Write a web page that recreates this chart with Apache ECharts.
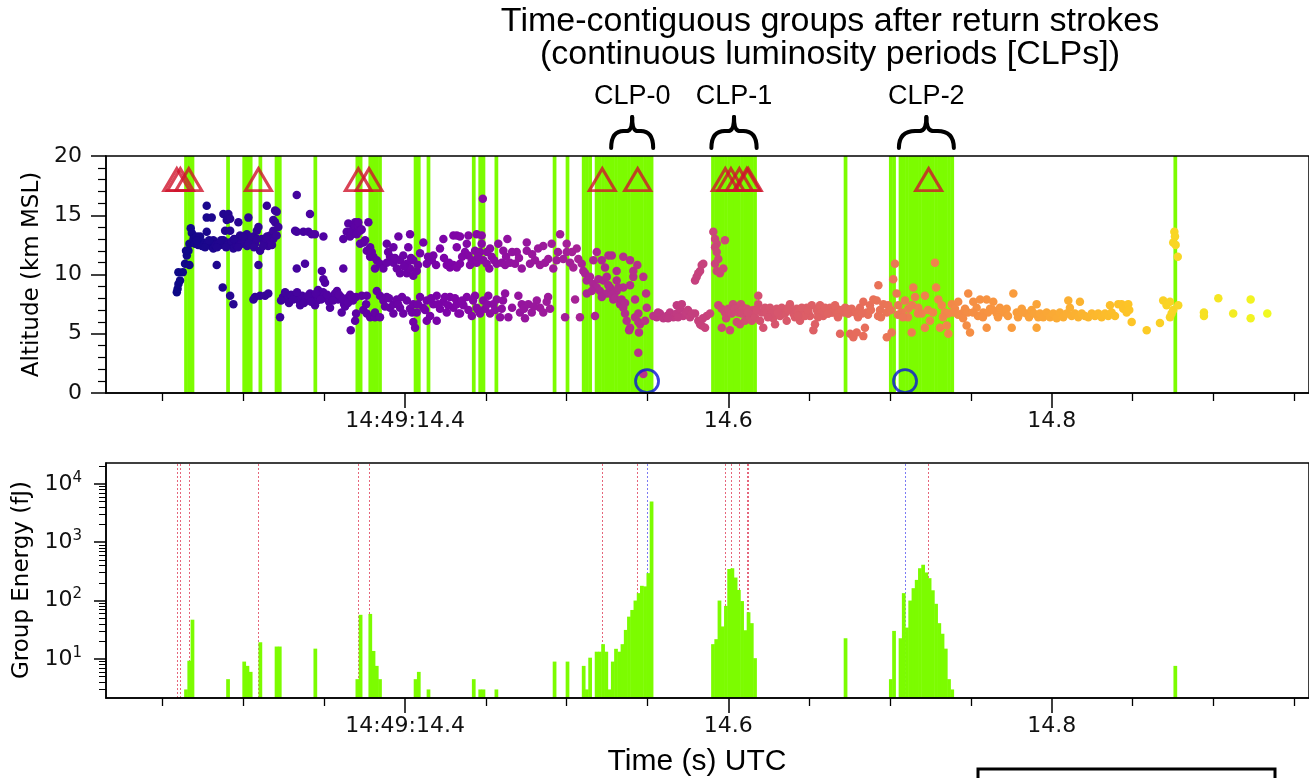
<!DOCTYPE html>
<html><head><meta charset="utf-8">
<script src="https://cdn.jsdelivr.net/npm/echarts@6/dist/echarts.min.js"></script>
<style>html,body{margin:0;padding:0;background:#fff}#c{width:1309px;height:778px}</style>
</head><body><div id="c"></div>
<script>
// ---------------- data ----------------
const timeMajorTicks = [14.4, 14.6, 14.8];
const timeMajorLabels = ['14:49:14.4', '14.6', '14.8'];
const timeMinorTicks = [14.25, 14.3, 14.35, 14.45, 14.5, 14.55, 14.65, 14.7, 14.75, 14.85, 14.9, 14.95];
const altTicks = [0, 5, 10, 15, 20];
const energyExponents = [1, 2, 3, 4];
const energyMinorTicks = [3,4,5,6,7,8,9,20,30,40,50,60,70,80,90,200,300,400,500,600,700,800,900,2000,3000,4000,5000,6000,7000,8000,9000,20000];

// GLM frames (start time, s after 14:49) and group energy (fJ)
const frameStart = [14.2635,14.2655,14.2675,14.2895,14.2995,14.3015,14.3035,14.3095,14.3195,14.3215,14.3435,14.3695,14.3715,14.3775,14.3795,14.3815,14.3835,14.4055,14.4075,14.4135,14.4415,14.4455,14.4475,14.4555,14.4915,14.4995,14.5095,14.5115,14.5135,14.5175,14.5195,14.5215,14.5235,14.5255,14.5275,14.5295,14.5315,14.5335,14.5355,14.5375,14.5395,14.5415,14.5435,14.5455,14.5475,14.5495,14.5515,14.5895,14.5915,14.5935,14.5955,14.5975,14.5995,14.6015,14.6035,14.6055,14.6075,14.6095,14.6115,14.6135,14.6155,14.6715,14.6995,14.7015,14.7055,14.7075,14.7095,14.7115,14.7135,14.7155,14.7175,14.7195,14.7215,14.7235,14.7255,14.7275,14.7295,14.7315,14.7335,14.7355,14.7375,14.8755];
const frameEnergy = [3.0,9.3,47,4.5,9.0,7.6,6.0,19.3,16.3,16.3,15.0,4.5,57,59,13.7,7.6,4.5,4.5,6.0,3.0,4.5,3.0,3.0,3.0,9.0,9.0,7.6,3.0,10.5,13.3,13.3,17.9,13.3,3.0,9.0,14.9,13.3,17.9,31.4,53,69,100,134,179,175,295,4990,17.9,21.8,100,36,81,347,358,248,152,98,31,63,41,10.3,22.6,4.5,30.2,22.6,134,34.4,100,163,226,358,410,303,242,150,88,41,27,15,4.5,3.0,7.6];

const returnStrokeTimes = [14.2588,14.2610,14.2662,14.3093,14.3711,14.3777,14.5220,14.5439,14.5981,14.6016,14.6068,14.6114,14.6123,14.7239];
const returnStrokeAlt = 18;
const cgTimes = [14.5497,14.7093];
const cgAlt = 1;

const clpNames = ['CLP-0','CLP-1','CLP-2'];
const clpStart = [14.5275,14.5895,14.7055];
const clpEnd = [14.5535,14.6175,14.7395];

// VHF sources [time (s), altitude (km MSL)]
const vhfSources = [
[14.2588,8.5],[14.2593,8.8],[14.2598,9.2],[14.2608,9.5],[14.2598,10.2],[14.2625,10.2],[14.2639,10.9],[14.2650,11.6],[14.2660,12.0],[14.2645,12.0],[14.2666,12.6],[14.2666,10.8],[14.2674,13.9],[14.2681,13.5],[14.2691,13.0],[14.2712,13.2],
[14.2701,12.6],[14.2720,12.5],[14.2732,13.2],[14.2744,12.4],[14.2752,12.7],[14.2773,15.8],[14.2773,14.8],[14.2773,13.6],[14.2775,12.5],[14.2794,12.6],[14.2804,14.8],[14.2800,12.4],[14.2814,12.9],[14.2814,12.2],[14.2825,12.5],[14.2835,10.8],[14.2845,12.6],[14.2856,12.5],[14.2872,8.9],[14.2876,15.1],[14.2876,12.9],[14.2880,12.6],[14.2887,13.7],[14.2897,14.6],[14.2897,12.7],[14.2905,12.5],[14.2907,15.1],[14.2918,14.7],[14.2918,13.7],[14.2918,8.2],[14.2928,12.6],[14.2930,12.8],[14.2938,12.2],[14.2938,7.5],[14.2959,13.0],[14.2955,12.5],[14.2969,14.4],[14.2979,13.3],[14.2979,12.7],[14.2990,12.6],[14.3004,12.9],[14.3010,13.0],[14.3021,13.4],[14.3023,12.4],[14.3031,14.8],[14.3031,12.7],[14.3052,12.5],[14.3054,12.9],[14.3062,13.2],[14.3072,12.6],[14.3083,13.7],[14.3093,14.0],[14.3093,10.8],[14.3103,12.0],[14.3115,13.0],[14.3134,12.7],[14.3145,15.8],[14.3145,12.9],[14.3153,12.4],[14.3165,13.3],[14.3171,12.9],[14.3185,13.7],[14.3185,14.6],[14.3185,13.0],[14.3196,15.4],[14.3196,14.4],[14.3206,15.3],[14.3206,13.3],[14.3216,14.0],
[14.2713,12.9],[14.2763,12.3],[14.2788,12.9],[14.2837,12.3],[14.2862,12.9],[14.2893,12.3],[14.2942,13.0],[14.2967,12.3],[14.2998,13.2],[14.3035,12.6],[14.3066,12.3],[14.3085,13.0],[14.3122,12.4],[14.3146,13.2],[14.3177,12.5],
[14.3062,7.9],[14.3072,8.1],[14.3103,8.2],[14.3134,8.2],[14.3154,8.4],[14.3227,6.4],[14.3245,8.1],[14.3270,7.9],[14.3295,8.3],[14.3320,8.1],[14.3344,7.8],[14.3363,8.2],[14.3388,8.0],[14.3412,8.4],[14.3431,8.1],[14.3456,7.8],[14.3474,8.2],[14.3493,8.5],[14.3511,8.0],[14.3530,7.7],[14.3548,8.1],[14.3567,8.4],[14.3586,7.9],[14.3604,8.1],[14.3623,7.5],[14.3641,8.0],[14.3660,8.3],[14.3678,7.8],[14.3697,8.1],[14.3351,7.4],[14.3443,7.4],[14.3536,7.2],[14.3629,7.3],[14.3579,8.6],[14.3462,8.7],[14.3608,6.8],[14.3664,5.3],[14.3691,6.1],[14.3697,6.7],[14.3742,7.0],[14.3732,8.2],[14.3759,7.5],[14.3763,6.7],[14.3763,8.2],[14.3784,6.4],[14.3814,6.4],[14.3814,6.8],[14.3845,6.4],
[14.3233,7.8],[14.3258,8.5],[14.3282,7.6],[14.3307,7.9],[14.3332,8.5],[14.3375,7.6],[14.3400,8.2],[14.3419,7.7],[14.3449,8.4],[14.3480,7.9],[14.3518,8.3],[14.3555,7.8],[14.3592,8.3],[14.3617,7.9],[14.3647,7.6],[14.3672,8.1],
[14.3330,16.7],[14.3412,15.1],[14.3320,13.7],[14.3330,13.6],[14.3371,13.6],[14.3402,13.6],[14.3423,13.4],[14.3443,13.4],[14.3495,13.2],[14.3381,10.9],[14.3330,10.5],[14.3485,10.3],[14.3495,9.6],[14.3505,9.3],[14.3618,10.5],
[14.3618,13.0],[14.3639,13.6],[14.3649,14.3],[14.3660,13.2],[14.3670,13.7],[14.3691,14.4],[14.3691,14.1],[14.3701,13.4],[14.3711,14.1],[14.3711,14.4],[14.3722,13.7],[14.3722,12.6],[14.3732,13.8],[14.3742,12.7],[14.3753,12.9],[14.3763,12.0],[14.3773,14.4],[14.3784,12.3],[14.3784,11.5],[14.3794,11.9],[14.3804,11.5],[14.3825,11.2],[14.3814,10.5],[14.3845,10.9],[14.3866,10.5],
[14.3825,8.6],[14.3845,8.2],[14.3866,7.8],[14.3887,8.1],[14.3907,7.2],[14.3928,7.5],[14.3928,6.7],[14.3949,7.9],[14.3969,7.2],[14.3989,6.7],[14.4011,7.8],[14.4031,7.1],[14.4051,7.5],[14.4051,6.0],[14.4062,5.5],[14.4072,6.8],[14.4093,8.1],[14.4113,7.2],[14.4134,7.8],[14.4134,6.1],[14.4155,6.5],[14.4175,7.5],[14.4196,8.2],[14.4196,6.1],[14.4216,7.1],[14.4237,7.7],[14.4258,6.8],[14.4278,8.1],[14.4299,7.2],[14.4320,7.5],[14.4330,6.7],
[14.3876,7.3],[14.3901,8.0],[14.3957,7.5],[14.3981,8.1],[14.4043,6.8],[14.4080,7.5],[14.4124,7.0],[14.4161,8.0],[14.4204,7.5],[14.4247,8.1],[14.4266,7.4],[14.4309,8.0],
[14.3887,12.6],[14.3887,11.0],[14.3907,11.5],[14.3928,12.3],[14.3928,11.0],[14.3949,10.5],[14.3959,13.2],[14.3969,11.2],[14.3969,10.1],[14.3989,11.6],[14.4011,10.9],[14.4011,10.1],[14.4020,12.3],[14.4031,13.4],[14.4031,10.5],[14.4051,11.2],[14.4051,9.9],[14.4072,10.3],[14.4093,11.8],[14.4113,12.7],[14.4134,10.9],[14.4165,11.2],[14.4175,11.6],[14.4216,12.2],[14.4237,13.0],[14.4258,10.8],[14.4278,10.6],[14.4299,10.8],[14.4299,13.3],[14.4320,13.3],[14.4320,10.6],[14.4320,12.3],
[14.3895,11.9],[14.3938,11.4],[14.3994,10.7],[14.4037,11.4],[14.4080,10.8],[14.4142,11.5],[14.4192,10.8],[14.4241,11.4],[14.4272,11.0],
[14.4340,13.2],[14.4340,10.9],[14.4371,11.9],[14.4382,12.6],[14.4392,13.3],[14.4392,11.6],[14.4413,11.2],[14.4433,12.0],[14.4443,13.4],[14.4443,11.0],[14.4464,11.9],[14.4474,13.3],[14.4474,12.6],[14.4481,16.4],[14.4484,11.2],[14.4505,10.9],[14.4521,10.5],[14.4526,12.2],[14.4536,11.5],[14.4567,10.9],[14.4577,12.6],[14.4598,11.0],[14.4608,12.0],[14.4619,10.8],[14.4633,13.0],[14.4649,11.0],[14.4680,10.9],[14.4691,11.9],[14.4722,10.5],[14.4753,12.7],[14.4753,12.0],[14.4773,10.9],[14.4804,11.2],[14.4835,10.8],[14.4855,12.4],[14.4886,11.3],[14.4907,12.6],[14.4917,10.5],[14.4938,11.2],[14.4959,13.4],[14.4979,11.3],[14.5000,11.9],[14.5000,12.6],[14.5021,11.0],[14.5041,10.6],[14.5062,12.2],[14.5072,11.3],[14.5093,10.9],[14.5103,10.3],
[14.4353,11.5],[14.4402,10.8],[14.4452,11.5],[14.4507,11.9],[14.4551,11.2],[14.4625,11.5],[14.4662,11.9],[14.4705,11.4],[14.4786,11.7],[14.4823,12.2],[14.4866,11.0],[14.4946,11.9],[14.5033,11.9],
[14.4340,6.7],[14.4361,7.4],[14.4382,8.1],[14.4392,7.0],[14.4413,6.5],[14.4433,8.2],[14.4443,7.2],[14.4464,6.7],[14.4484,7.8],[14.4495,7.1],[14.4515,8.2],[14.4526,6.7],[14.4546,7.5],[14.4567,7.9],[14.4588,6.4],[14.4598,7.1],[14.4619,8.4],[14.4639,6.4],[14.4701,8.2],[14.4711,6.8],[14.4722,7.5],[14.4742,6.3],[14.4763,7.5],[14.4784,6.8],[14.4815,7.8],[14.4835,7.2],[14.4855,6.8],[14.4876,7.7],[14.4897,7.1],[14.4990,6.4],[14.5052,7.9],[14.5082,6.4],[14.5175,6.5],
[14.4353,7.8],[14.4421,7.8],[14.4452,7.0],[14.4507,7.5],[14.4557,7.0],[14.4606,7.8],[14.4662,7.2],[14.4736,7.1],[14.4798,7.3],[14.4885,8.1],
[14.5113,10.1],[14.5124,9.5],[14.5124,8.4],[14.5144,9.8],[14.5165,9.2],[14.5165,11.2],[14.5186,8.9],[14.5186,11.9],[14.5206,8.6],[14.5217,11.2],[14.5227,9.5],[14.5237,10.6],[14.5248,8.4],[14.5248,9.8],[14.5258,11.6],[14.5268,8.9],[14.5279,11.6],[14.5288,7.9],[14.5309,8.6],[14.5309,10.3],[14.5309,9.5],[14.5330,7.5],[14.5350,7.2],[14.5350,11.5],[14.5350,8.9],[14.5361,6.7],[14.5371,6.1],[14.5392,5.5],[14.5392,11.2],[14.5392,9.1],[14.5412,9.8],[14.5412,10.3],[14.5423,6.4],[14.5423,7.9],[14.5437,10.8],[14.5443,6.7],[14.5443,6.0],[14.5443,3.4],[14.5447,5.1],[14.5454,5.8],[14.5474,9.8],[14.5474,1.6],[14.5485,6.1],[14.5491,8.4],[14.5495,7.2],[14.5386,5.3],
[14.5155,8.6],[14.5196,9.6],[14.5217,8.1],[14.5258,9.1],[14.5279,8.3],[14.5299,8.0],[14.5320,8.9],[14.5340,7.9],[14.5361,7.6],
[14.5536,6.5],[14.5557,6.4],[14.5577,6.7],[14.5598,6.3],[14.5619,6.5],[14.5639,6.8],[14.5660,6.4],[14.5681,6.7],[14.5681,7.4],[14.5701,7.1],[14.5712,7.5],[14.5721,6.5],[14.5742,6.8],[14.5763,6.4],[14.5794,6.7],[14.5814,6.1],[14.5825,5.8],[14.5835,5.7],[14.5856,5.5],[14.5866,6.5],[14.5887,6.7],
[14.5565,6.8],[14.5627,6.3],[14.5689,6.4],[14.5750,7.0],[14.5775,6.7],[14.5843,6.3],[14.6029,7.5],[14.5986,6.3],[14.6078,7.5],
[14.5794,9.5],[14.5804,9.8],[14.5814,10.1],[14.5825,10.3],[14.5835,10.8],[14.5845,10.9],
[14.5907,13.6],[14.5918,13.0],[14.5928,12.6],[14.5918,12.3],[14.5928,11.9],[14.5938,11.3],[14.5918,10.9],[14.5928,10.3],[14.5948,10.1],[14.5969,10.5],[14.5979,12.9],
[14.5938,7.4],[14.5959,7.1],[14.5959,5.5],[14.5979,6.8],[14.6000,7.1],[14.6010,5.3],[14.6021,6.7],[14.6041,7.1],[14.6052,6.0],[14.6062,6.8],[14.6072,5.8],[14.6093,7.2],[14.6114,6.7],
[14.6103,6.1],[14.6114,7.1],[14.6134,6.4],[14.6145,6.1],[14.6154,7.0],[14.6165,6.4],[14.6185,8.2],[14.6185,7.5],[14.6196,6.1],[14.6206,6.8],[14.6216,5.5],[14.6227,7.2],[14.6237,6.7],[14.6258,7.2],[14.6278,6.3],[14.6289,5.8],[14.6299,7.1],[14.6320,6.5],[14.6340,7.0],[14.6361,6.1],[14.6381,7.5],[14.6402,6.7],[14.6423,7.1],[14.6443,6.1],[14.6464,6.8],[14.6485,7.2],[14.6505,6.5],[14.6526,5.3],[14.6536,5.8],[14.6547,7.0],[14.6567,7.4],[14.6587,6.5],[14.6608,7.0],[14.6629,7.2],[14.6649,6.8],[14.6670,7.1],[14.6691,5.0],[14.6711,6.8],[14.6732,7.1],[14.6753,5.0],[14.6773,4.7],[14.6794,5.1],[14.6814,7.2],[14.6835,7.7],[14.6835,4.8],[14.6845,5.5],[14.6856,6.8],[14.6876,7.4],[14.6897,7.9],[14.6918,7.8],[14.6928,9.1],[14.6938,7.0],[14.6959,7.5],[14.6980,6.8],[14.6980,4.7],[14.7010,5.1],[14.7020,9.6],[14.7031,10.9],[14.7041,8.4],[14.7051,7.4],[14.7072,6.8],[14.7093,7.8],[14.7113,7.1],[14.7134,5.1],[14.7144,8.9],[14.7155,8.1],[14.7175,7.2],[14.7196,6.7],[14.7216,5.5],[14.7216,8.2],[14.7247,6.1],[14.7278,11.0],[14.7285,8.9],[14.7299,7.9],[14.7309,5.5],[14.7320,7.4],[14.7340,6.8],[14.7351,5.7],[14.7361,5.0],[14.7382,7.5],[14.7402,7.1],[14.7422,7.7],[14.7443,6.7],[14.7464,7.1],[14.7474,5.7],[14.7484,8.4],[14.7495,5.1],[14.7515,7.7],[14.7536,7.2],[14.7557,7.9],[14.7577,6.8],[14.7598,7.9],[14.7598,5.5],[14.7619,7.1],[14.7639,7.7],[14.7660,6.7],[14.7680,7.2],[14.7701,6.8],[14.7722,7.1],[14.7753,5.5],[14.7763,8.4],[14.7784,6.8],[14.7815,7.1],[14.7845,6.7],[14.7876,7.0],[14.7907,7.5],[14.7907,5.5],[14.7917,6.4],
[14.6083,6.7],[14.6123,7.0],[14.6268,6.7],[14.6330,7.2],[14.6350,6.7],[14.6371,7.2],[14.6392,7.0],[14.6412,6.4],[14.6433,6.8],[14.6454,7.2],[14.6474,6.5],[14.6495,6.8],[14.6516,7.4],[14.6556,6.7],[14.6577,6.8],[14.6598,7.2],[14.6618,6.7],[14.6639,6.8],[14.6660,7.4],[14.6680,6.7],[14.6701,7.0],[14.6722,7.2],[14.6742,6.7],[14.6763,7.1],[14.6783,6.8],[14.6804,6.7],
[14.6122,6.8],[14.6177,7.0],[14.6245,6.4],[14.6307,6.8],[14.6369,7.0],[14.6431,6.5],[14.6493,7.0],[14.6555,6.4],[14.6616,6.7],[14.6678,6.4],[14.6740,6.7],[14.6802,6.4],[14.6864,6.6],[14.6926,6.5],[14.6988,7.4],[14.7049,6.6],[14.7111,6.4],[14.7173,6.7],[14.7235,7.0],[14.7359,6.7],[14.7421,6.6],[14.7482,6.8],[14.7544,6.5],[14.7606,6.8],[14.7668,6.4],
[14.6827,6.7],[14.6882,7.0],[14.6944,6.4],[14.7006,7.0],[14.7080,6.4],[14.7136,7.4],[14.7266,6.8],[14.7328,6.4],[14.7390,6.8],[14.7452,6.3],[14.7513,6.8],[14.7575,6.4],[14.7637,7.0],[14.7730,6.5],[14.7792,6.4],[14.7823,6.8],[14.7860,6.4],[14.7891,6.7],
[14.7928,6.7],[14.7948,6.4],[14.7969,6.8],[14.7990,6.4],[14.8010,6.7],[14.8031,6.3],[14.8051,6.8],[14.8072,6.4],[14.8093,6.7],[14.8103,7.8],[14.8113,7.2],[14.8124,6.5],[14.8144,6.7],[14.8165,6.4],[14.8175,7.7],[14.8186,6.7],[14.8206,6.5],[14.8227,6.4],[14.8248,6.7],[14.8268,6.5],[14.8288,6.7],[14.8309,6.4],[14.8330,6.7],[14.8350,6.5],[14.8361,7.4],[14.8371,6.8],[14.8392,6.5],[14.8412,7.5],[14.8433,7.5],[14.8443,7.1],[14.8464,6.8],[14.8474,7.5],[14.8480,7.0],[14.8495,6.0],
[14.8588,5.3],[14.8670,5.9],[14.8690,7.8],[14.8711,7.4],[14.8732,7.7],[14.8732,6.4],[14.8742,6.7],[14.8752,7.0],[14.8783,7.4],
[14.8759,13.6],[14.8763,13.2],[14.8752,12.7],[14.8767,12.5],[14.8780,11.5],
[14.8942,6.8],[14.8942,6.5],[14.9031,8.0],[14.9123,6.7],[14.9231,7.9],[14.9231,6.3],[14.9334,6.7]
];

// ---------------- settings ----------------
const T_MIN = 14.215, T_MAX = 14.9592;
const ALT_MIN = 0, ALT_MAX = 20;
const E_MIN = 2.14, E_MAX = 22750;
const FRAME = 0.002;
const GREEN = '#7cfc00';
const RED = '#d0142c';
const BLUE = '#0a14d8';
const plasma = ['#0d0887','#4c02a1','#7e03a8','#a92395','#cc4778','#e66c5c','#f89540','#fdc527','#f0f921'];
const tickFont = 'DejaVu Sans';
const annFont = 'Liberation Sans';

const vhfTimes = vhfSources.map(p => p[0]);
const frames = frameStart.map((t, i) => [t, frameEnergy[i]]);

function timeLabel(v) {
  const i = timeMajorTicks.findIndex(m => Math.abs(m - v) < 1e-6);
  return i >= 0 ? timeMajorLabels[i] : '';
}

const axisLineStyle = {show: true, onZero: false, lineStyle: {color: '#000', width: 1.5}};

function timeAxes(gridIndex) {
  return [{
    type: 'value', gridIndex, min: T_MIN, max: T_MAX, position: 'bottom', z: 10,
    axisLine: axisLineStyle,
    axisTick: {show: true, customValues: timeMajorTicks, length: 15, lineStyle: {color: '#000', width: 1.5}},
    axisLabel: {show: true, customValues: timeMajorTicks, formatter: timeLabel, margin: 17,
      fontFamily: tickFont, fontSize: 22, color: '#111'},
    splitLine: {show: false}
  }, {
    type: 'value', gridIndex, min: T_MIN, max: T_MAX, position: 'bottom', z: 10,
    axisLine: {show: false, onZero: false},
    axisTick: {show: true, customValues: timeMinorTicks, length: 8, lineStyle: {color: '#000', width: 1.3}},
    axisLabel: {show: false},
    splitLine: {show: false}
  }];
}

function frameRect(api, t, top, bottom) {
  const p0 = api.coord([t, top]);
  const p1 = api.coord([t + FRAME, bottom]);
  return {type: 'rect', shape: {x: p0[0] - 0.25, y: p0[1], width: p1[0] - p0[0] + 0.5, height: p1[1] - p0[1]},
    style: {fill: GREEN}};
}

const option = {
  animation: false,
  backgroundColor: '#fff',
  textStyle: {fontFamily: tickFont},
  grid: [
    {left: 106, right: 0, top: 156, height: 237, show: true, borderColor: '#000', borderWidth: 1.5, backgroundColor: 'rgba(0,0,0,0)', z: 10},
    {left: 106, right: 0, top: 463, height: 235, show: true, borderColor: '#000', borderWidth: 1.5, backgroundColor: 'rgba(0,0,0,0)', z: 10}
  ],
  xAxis: [...timeAxes(0), ...timeAxes(1)],
  yAxis: [
    {
      type: 'value', gridIndex: 0, min: ALT_MIN, max: ALT_MAX, interval: 5, position: 'left', z: 10,
      axisLine: axisLineStyle,
      axisTick: {show: true, length: 15, lineStyle: {color: '#000', width: 1.5}},
      minorTick: {show: true, splitNumber: 5, length: 8, lineStyle: {color: '#000', width: 1.2}},
      axisLabel: {fontFamily: tickFont, fontSize: 22, color: '#111', margin: 24},
      splitLine: {show: false}, minorSplitLine: {show: false}
    },
    {
      type: 'log', logBase: 10, gridIndex: 1, min: E_MIN, max: E_MAX, position: 'left', show: false
    },
    {
      type: 'value', gridIndex: 1, min: Math.log10(E_MIN), max: Math.log10(E_MAX), position: 'left', z: 10,
      axisLine: axisLineStyle,
      axisTick: {show: true, customValues: energyExponents, length: 12, lineStyle: {color: '#000', width: 1.5}},
      axisLabel: {show: true, customValues: energyExponents, margin: 24, fontFamily: tickFont, fontSize: 22, color: '#111',
        formatter: v => '10{sup|' + Math.round(v) + '}',
        rich: {sup: {fontFamily: tickFont, fontSize: 15, color: '#111', padding: [0, 0, 12, 0]}}},
      splitLine: {show: false}
    },
    {
      type: 'value', gridIndex: 1, min: Math.log10(E_MIN), max: Math.log10(E_MAX), position: 'left', z: 10,
      axisLine: {show: false, onZero: false},
      axisTick: {show: true, customValues: energyMinorTicks.map(v => Math.log10(v)), length: 7, lineStyle: {color: '#000', width: 1}},
      axisLabel: {show: false},
      splitLine: {show: false}
    }
  ],
  visualMap: {
    type: 'continuous', show: false, seriesIndex: 1, dimension: 0,
    min: Math.min(...vhfTimes), max: Math.max(...vhfTimes),
    inRange: {color: plasma}
  },
  series: [
    {
      type: 'custom', name: 'frames-top', xAxisIndex: 0, yAxisIndex: 0, z: 1,
      data: frames,
      renderItem: (params, api) => frameRect(api, api.value(0), ALT_MAX, ALT_MIN)
    },
    {
      type: 'scatter', name: 'VHF', xAxisIndex: 0, yAxisIndex: 0, z: 3,
      data: vhfSources, symbolSize: 8.5, itemStyle: {opacity: 1}
    },
    {
      type: 'scatter', name: 'return strokes', xAxisIndex: 0, yAxisIndex: 0, z: 4,
      data: returnStrokeTimes.map(t => [t, returnStrokeAlt]),
      symbol: 'triangle', symbolSize: [26, 22],
      itemStyle: {color: 'rgba(0,0,0,0)', borderColor: RED, borderWidth: 3}
    },
    {
      type: 'scatter', name: 'CG', xAxisIndex: 0, yAxisIndex: 0, z: 4,
      data: cgTimes.map(t => [t, cgAlt]),
      symbol: 'circle', symbolSize: 23,
      itemStyle: {color: 'rgba(0,0,0,0)', borderColor: BLUE, borderWidth: 2.8}
    },
    {
      type: 'line', name: 'stroke lines', xAxisIndex: 2, yAxisIndex: 1, z: 1, data: [],
      markLine: {
        z: 1, silent: true, animation: false, precision: 6, symbol: ['none', 'none'], label: {show: false},
        lineStyle: {type: [2, 2], width: 1, opacity: 0.8},
        data: returnStrokeTimes.map(t => ({xAxis: t, lineStyle: {color: '#e0405a'}}))
          .concat(cgTimes.map(t => ({xAxis: t, lineStyle: {color: '#5a5af0'}})))
      }
    },
    {
      type: 'custom', name: 'group energy', xAxisIndex: 2, yAxisIndex: 1, z: 6,
      data: frames,
      renderItem: (params, api) => frameRect(api, api.value(0), api.value(1), E_MIN)
    }
  ]
};

const chart = echarts.init(document.getElementById('c'), null, {renderer: 'canvas'});
chart.setOption(option);

// annotations
const graphics = [];
function txt(id, x, y, text, size, family, rot) {
  graphics.push({id, type: 'text', x, y, rotation: rot || 0, z: 50,
    style: {text, fontSize: size, fontFamily: family, fill: '#000', align: 'center', verticalAlign: 'middle'}});
}
function stroke() { return {fill: null, stroke: '#000', lineWidth: 4, lineCap: 'round'}; }
txt('t1', 830, 22, 'Time-contiguous groups after return strokes', 34, annFont);
txt('t2', 830, 55, '(continuous luminosity periods [CLPs])', 34, annFont);
txt('ylab0', 32, 274.5, 'Altitude (km MSL)', 23, tickFont, Math.PI / 2);
txt('ylab1', 22, 580, 'Group Energy (fJ)', 23, tickFont, Math.PI / 2);
txt('xlab', 697, 762, 'Time (s) UTC', 30, annFont);

clpNames.forEach((name, i) => {
  const x0 = chart.convertToPixel({xAxisIndex: 0}, clpStart[i]);
  const x1 = chart.convertToPixel({xAxisIndex: 0}, clpEnd[i]);
  const cx = (x0 + x1) / 2, w = x1 - x0;
  const yt = 117, yb = 148, ym = 131;
  txt('clp' + i, cx, 97, name, 27, annFont);
  graphics.push({id: 'bl' + i, type: 'bezierCurve', z: 50, style: stroke(),
    shape: {x1: x0, y1: yb, cpx1: x0, cpy1: ym, x2: x0 + 0.3 * w, y2: ym}});
  graphics.push({id: 'bm' + i, type: 'line', z: 50, style: stroke(),
    shape: {x1: x0 + 0.3 * w, y1: ym, x2: cx - 0.12 * w, y2: ym}});
  graphics.push({id: 'bc' + i, type: 'bezierCurve', z: 50, style: stroke(),
    shape: {x1: cx - 0.12 * w, y1: ym, cpx1: cx, cpy1: ym, x2: cx, y2: yt}});
  graphics.push({id: 'bd' + i, type: 'bezierCurve', z: 50, style: stroke(),
    shape: {x1: cx, y1: yt, cpx1: cx, cpy1: ym, x2: cx + 0.12 * w, y2: ym}});
  graphics.push({id: 'be' + i, type: 'line', z: 50, style: stroke(),
    shape: {x1: cx + 0.12 * w, y1: ym, x2: x1 - 0.3 * w, y2: ym}});
  graphics.push({id: 'bf' + i, type: 'bezierCurve', z: 50, style: stroke(),
    shape: {x1: x1 - 0.3 * w, y1: ym, cpx1: x1, cpy1: ym, x2: x1, y2: yb}});
});
graphics.push({id: 'box', type: 'rect', z: 50, shape: {x: 978, y: 769, width: 297, height: 30},
  style: {fill: null, stroke: '#000', lineWidth: 3}});
chart.setOption({graphic: graphics});
</script>
</body></html>
